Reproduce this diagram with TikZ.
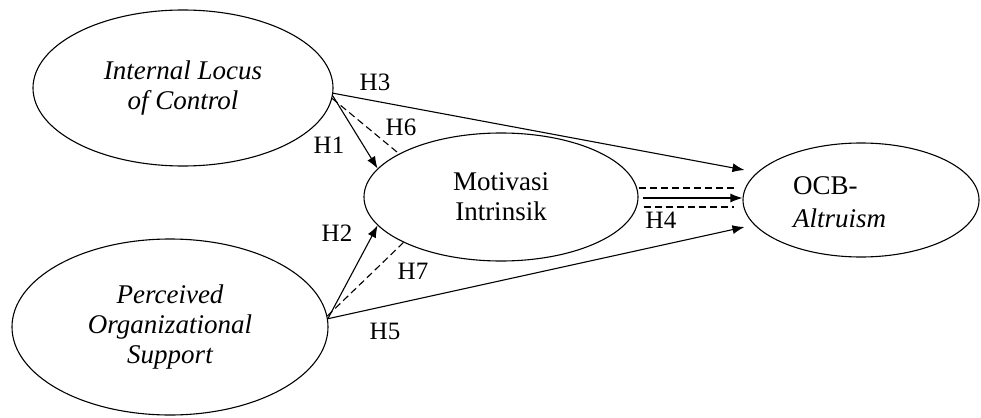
\documentclass[tikz,border=0pt]{standalone}
\usepackage{fontspec}
\setmainfont{Liberation Serif}
\usetikzlibrary{shapes.geometric,arrows.meta}
\begin{document}
\begin{tikzpicture}[x=1pt,y=-1pt,
  construct/.style={draw=black,line width=1.1pt,ellipse,inner sep=0pt,align=center,
    font=\fontsize{27}{30}\selectfont},
  link/.style={line width=1.1pt,-{Latex[length=12pt,width=9pt]}},
  dlink/.style={line width=1.1pt,dash pattern=on 7pt off 4pt},
  hlab/.style={inner sep=0pt,font=\fontsize{25}{28}\selectfont}]
\fill[white] (0,0) rectangle (981,417);
\useasboundingbox (0,0) rectangle (981,417);

\node[construct,minimum width=300pt,minimum height=156pt] (ilc) at (183,88) {\itshape Internal Locus\\\itshape of Control};
\node[construct,minimum width=316pt,minimum height=176pt] (pos) at (170,327) {\itshape Perceived\\\itshape Organizational\\\itshape Support};
\node[construct,minimum width=274pt,minimum height=128pt] (mi) at (501,197) {Motivasi\\Intrinsik};
\node[construct,minimum width=236pt,minimum height=114pt] (ocb) at (861,200) {};
\node[anchor=base west,inner sep=0pt,font=\fontsize{27}{30}\selectfont] (ocbt1) at (793,194) {OCB-};
\node[anchor=base west,inner sep=0pt,font=\fontsize{27}{30}\selectfont\itshape] (ocbt2) at (793,227) {Altruism};

% from ILC
\draw[link] (ilc.-2) -- ([yshift=30pt,xshift=2pt]ocb.west);
\draw[link] (ilc.-3) -- (mi.167.7);
\draw[dlink] (ilc.-4) -- (mi.157.8);
% from POS
\draw[link] (pos.3.3) -- (mi.193);
\draw[dlink] (pos.4) -- (mi.205.9);
\draw[link] (pos.3) -- ([yshift=-27pt,xshift=2pt]ocb.west);
% H4
\draw[dlink] ([yshift=9pt]mi.east) -- ([yshift=9pt,xshift=-6pt]mi.east -| ocb.west);
\draw[link] ([yshift=-1pt,xshift=4pt]mi.east) -- ([yshift=-1pt]mi.east -| ocb.west);
\draw[dlink] ([yshift=-10pt,xshift=5pt]mi.east) -- ([yshift=-10pt,xshift=-8pt]mi.east -| ocb.west);

\node[hlab] (h3) at (375,82) {H3};
\node[hlab] (h6) at (401,127) {H6};
\node[hlab] (h1) at (329,145) {H1};
\node[hlab] (h2) at (337,233) {H2};
\node[hlab] (h7) at (413,271) {H7};
\node[hlab] (h5) at (385,331) {H5};
\node[hlab] (h4) at (661,220) {H4};
\end{tikzpicture}
\end{document}
